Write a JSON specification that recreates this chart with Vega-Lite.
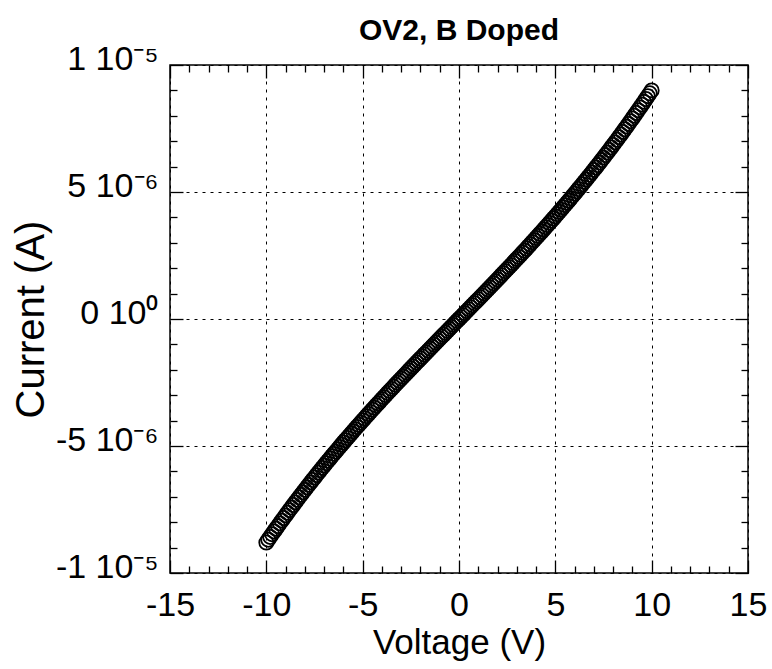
{
  "$schema": "https://vega.github.io/schema/vega-lite/v6.json",
  "width": 578,
  "height": 508,
  "autosize": {"type": "none"},
  "padding": {"left": 170, "top": 65, "right": 24, "bottom": 96},
  "background": "white",
  "title": {"text": "OV2, B Doped", "fontSize": 30, "fontWeight": "bold", "font": "Liberation Sans", "color": "black", "anchor": "middle", "offset": -4},
  "datasets": {
    "iv": [
      {"V":-10.0,"I":-8.800e-6},{"V":-9.9,"I":-8.690e-6},{"V":-9.8,"I":-8.581e-6},{"V":-9.7,"I":-8.473e-6},{"V":-9.6,"I":-8.365e-6},
      {"V":-9.5,"I":-8.258e-6},{"V":-9.4,"I":-8.152e-6},{"V":-9.3,"I":-8.046e-6},{"V":-9.2,"I":-7.941e-6},{"V":-9.1,"I":-7.836e-6},
      {"V":-9.0,"I":-7.732e-6},{"V":-8.9,"I":-7.629e-6},{"V":-8.8,"I":-7.526e-6},{"V":-8.7,"I":-7.424e-6},{"V":-8.6,"I":-7.323e-6},
      {"V":-8.5,"I":-7.221e-6},{"V":-8.4,"I":-7.121e-6},{"V":-8.3,"I":-7.021e-6},{"V":-8.2,"I":-6.922e-6},{"V":-8.1,"I":-6.823e-6},
      {"V":-8.0,"I":-6.725e-6},{"V":-7.9,"I":-6.627e-6},{"V":-7.8,"I":-6.530e-6},{"V":-7.7,"I":-6.433e-6},{"V":-7.6,"I":-6.337e-6},
      {"V":-7.5,"I":-6.241e-6},{"V":-7.4,"I":-6.146e-6},{"V":-7.3,"I":-6.052e-6},{"V":-7.2,"I":-5.957e-6},{"V":-7.1,"I":-5.864e-6},
      {"V":-7.0,"I":-5.771e-6},{"V":-6.9,"I":-5.678e-6},{"V":-6.8,"I":-5.585e-6},{"V":-6.7,"I":-5.494e-6},{"V":-6.6,"I":-5.402e-6},
      {"V":-6.5,"I":-5.311e-6},{"V":-6.4,"I":-5.221e-6},{"V":-6.3,"I":-5.130e-6},{"V":-6.2,"I":-5.041e-6},{"V":-6.1,"I":-4.951e-6},
      {"V":-6.0,"I":-4.862e-6},{"V":-5.9,"I":-4.774e-6},{"V":-5.8,"I":-4.686e-6},{"V":-5.7,"I":-4.598e-6},{"V":-5.6,"I":-4.511e-6},
      {"V":-5.5,"I":-4.424e-6},{"V":-5.4,"I":-4.337e-6},{"V":-5.3,"I":-4.251e-6},{"V":-5.2,"I":-4.165e-6},{"V":-5.1,"I":-4.079e-6},
      {"V":-5.0,"I":-3.994e-6},{"V":-4.9,"I":-3.909e-6},{"V":-4.8,"I":-3.824e-6},{"V":-4.7,"I":-3.740e-6},{"V":-4.6,"I":-3.656e-6},
      {"V":-4.5,"I":-3.572e-6},{"V":-4.4,"I":-3.489e-6},{"V":-4.3,"I":-3.405e-6},{"V":-4.2,"I":-3.323e-6},{"V":-4.1,"I":-3.240e-6},
      {"V":-4.0,"I":-3.158e-6},{"V":-3.9,"I":-3.076e-6},{"V":-3.8,"I":-2.994e-6},{"V":-3.7,"I":-2.912e-6},{"V":-3.6,"I":-2.831e-6},
      {"V":-3.5,"I":-2.750e-6},{"V":-3.4,"I":-2.669e-6},{"V":-3.3,"I":-2.588e-6},{"V":-3.2,"I":-2.507e-6},{"V":-3.1,"I":-2.427e-6},
      {"V":-3.0,"I":-2.347e-6},{"V":-2.9,"I":-2.267e-6},{"V":-2.8,"I":-2.187e-6},{"V":-2.7,"I":-2.108e-6},{"V":-2.6,"I":-2.028e-6},
      {"V":-2.5,"I":-1.949e-6},{"V":-2.4,"I":-1.870e-6},{"V":-2.3,"I":-1.791e-6},{"V":-2.2,"I":-1.712e-6},{"V":-2.1,"I":-1.634e-6},
      {"V":-2.0,"I":-1.555e-6},{"V":-1.9,"I":-1.477e-6},{"V":-1.8,"I":-1.398e-6},{"V":-1.7,"I":-1.320e-6},{"V":-1.6,"I":-1.242e-6},
      {"V":-1.5,"I":-1.164e-6},{"V":-1.4,"I":-1.086e-6},{"V":-1.3,"I":-1.008e-6},{"V":-1.2,"I":-0.931e-6},{"V":-1.1,"I":-0.853e-6},
      {"V":-1.0,"I":-0.775e-6},{"V":-0.9,"I":-0.698e-6},{"V":-0.8,"I":-0.620e-6},{"V":-0.7,"I":-0.542e-6},{"V":-0.6,"I":-0.465e-6},
      {"V":-0.5,"I":-0.387e-6},{"V":-0.4,"I":-0.310e-6},{"V":-0.3,"I":-0.232e-6},{"V":-0.2,"I":-0.155e-6},{"V":-0.1,"I":-0.077e-6},
      {"V":0.0,"I":0},
      {"V":0.1,"I":0.078e-6},{"V":0.2,"I":0.155e-6},{"V":0.3,"I":0.233e-6},{"V":0.4,"I":0.310e-6},{"V":0.5,"I":0.388e-6},
      {"V":0.6,"I":0.466e-6},{"V":0.7,"I":0.543e-6},{"V":0.8,"I":0.621e-6},{"V":0.9,"I":0.699e-6},{"V":1.0,"I":0.777e-6},
      {"V":1.1,"I":0.855e-6},{"V":1.2,"I":0.933e-6},{"V":1.3,"I":1.012e-6},{"V":1.4,"I":1.090e-6},{"V":1.5,"I":1.169e-6},
      {"V":1.6,"I":1.247e-6},{"V":1.7,"I":1.326e-6},{"V":1.8,"I":1.405e-6},{"V":1.9,"I":1.484e-6},{"V":2.0,"I":1.563e-6},
      {"V":2.1,"I":1.643e-6},{"V":2.2,"I":1.722e-6},{"V":2.3,"I":1.802e-6},{"V":2.4,"I":1.882e-6},{"V":2.5,"I":1.962e-6},
      {"V":2.6,"I":2.042e-6},{"V":2.7,"I":2.122e-6},{"V":2.8,"I":2.203e-6},{"V":2.9,"I":2.284e-6},{"V":3.0,"I":2.365e-6},
      {"V":3.1,"I":2.446e-6},{"V":3.2,"I":2.528e-6},{"V":3.3,"I":2.610e-6},{"V":3.4,"I":2.692e-6},{"V":3.5,"I":2.774e-6},
      {"V":3.6,"I":2.857e-6},{"V":3.7,"I":2.940e-6},{"V":3.8,"I":3.023e-6},{"V":3.9,"I":3.106e-6},{"V":4.0,"I":3.190e-6},
      {"V":4.1,"I":3.274e-6},{"V":4.2,"I":3.358e-6},{"V":4.3,"I":3.442e-6},{"V":4.4,"I":3.527e-6},{"V":4.5,"I":3.613e-6},
      {"V":4.6,"I":3.698e-6},{"V":4.7,"I":3.784e-6},{"V":4.8,"I":3.870e-6},{"V":4.9,"I":3.957e-6},{"V":5.0,"I":4.044e-6},
      {"V":5.1,"I":4.131e-6},{"V":5.2,"I":4.219e-6},{"V":5.3,"I":4.307e-6},{"V":5.4,"I":4.395e-6},{"V":5.5,"I":4.484e-6},
      {"V":5.6,"I":4.573e-6},{"V":5.7,"I":4.663e-6},{"V":5.8,"I":4.753e-6},{"V":5.9,"I":4.844e-6},{"V":6.0,"I":4.934e-6},
      {"V":6.1,"I":5.026e-6},{"V":6.2,"I":5.118e-6},{"V":6.3,"I":5.210e-6},{"V":6.4,"I":5.302e-6},{"V":6.5,"I":5.396e-6},
      {"V":6.6,"I":5.489e-6},{"V":6.7,"I":5.583e-6},{"V":6.8,"I":5.678e-6},{"V":6.9,"I":5.773e-6},{"V":7.0,"I":5.869e-6},
      {"V":7.1,"I":5.965e-6},{"V":7.2,"I":6.061e-6},{"V":7.3,"I":6.158e-6},{"V":7.4,"I":6.256e-6},{"V":7.5,"I":6.354e-6},
      {"V":7.6,"I":6.453e-6},{"V":7.7,"I":6.552e-6},{"V":7.8,"I":6.652e-6},{"V":7.9,"I":6.752e-6},{"V":8.0,"I":6.853e-6},
      {"V":8.1,"I":6.954e-6},{"V":8.2,"I":7.056e-6},{"V":8.3,"I":7.159e-6},{"V":8.4,"I":7.262e-6},{"V":8.5,"I":7.366e-6},
      {"V":8.6,"I":7.470e-6},{"V":8.7,"I":7.576e-6},{"V":8.8,"I":7.681e-6},{"V":8.9,"I":7.787e-6},{"V":9.0,"I":7.894e-6},
      {"V":9.1,"I":8.002e-6},{"V":9.2,"I":8.110e-6},{"V":9.3,"I":8.219e-6},{"V":9.4,"I":8.329e-6},{"V":9.5,"I":8.439e-6},
      {"V":9.6,"I":8.550e-6},{"V":9.7,"I":8.661e-6},{"V":9.8,"I":8.773e-6},{"V":9.9,"I":8.886e-6},{"V":10.0,"I":9.000e-6}
    ]
  },
  "data": {"name": "iv"},
  "layer": [
    {
      "mark": {"type": "point", "shape": "circle", "filled": false, "stroke": "black", "strokeWidth": 1.8, "size": 200, "opacity": 1},
      "encoding": {
        "x": {"field": "V", "type": "quantitative", "scale": {"domain": [-15, 15], "nice": false, "zero": false},
          "axis": {"orient": "bottom", "title": "Voltage (V)", "values": [-15, -10, -5, 0, 5, 10, 15], "grid": true, "tickSize": -13, "labelPadding": 28, "labelFontSize": 34, "titlePadding": 3, "titleFontSize": 35,
            "labelExpr": "toString(datum.value)"}},
        "y": {"field": "I", "type": "quantitative", "scale": {"domain": [-1e-5, 1e-5], "nice": false, "zero": false},
          "axis": {"orient": "left", "title": "Current (A)", "values": [-1e-5, -5e-6, 0, 5e-6, 1e-5], "grid": true, "tickSize": -13, "labelPadding": 25, "labelFontSize": 34, "titlePadding": 4, "titleFontSize": 40, "labelOffset": -6,
            "labelExpr": "datum.value == 0 ? '0 10⁰' : datum.value > 9e-6 ? '1 10⁻⁵' : datum.value > 4e-6 ? '5 10⁻⁶' : datum.value < -9e-6 ? '-1 10⁻⁵' : '-5 10⁻⁶'"}}
      }
    },
    {
      "mark": {"type": "point", "opacity": 0},
      "encoding": {
        "x": {"field": "V", "type": "quantitative",
          "axis": {"orient": "bottom", "title": null, "labels": false, "grid": false, "tickSize": -7, "values": [-14, -13, -12, -11, -9, -8, -7, -6, -4, -3, -2, -1, 1, 2, 3, 4, 6, 7, 8, 9, 11, 12, 13, 14]}},
        "y": {"field": "I", "type": "quantitative",
          "axis": {"orient": "left", "title": null, "labels": false, "grid": false, "tickSize": -7, "values": [-9e-6, -8e-6, -7e-6, -6e-6, -4e-6, -3e-6, -2e-6, -1e-6, 1e-6, 2e-6, 3e-6, 4e-6, 6e-6, 7e-6, 8e-6, 9e-6]}}
      }
    },
    {
      "mark": {"type": "point", "opacity": 0},
      "encoding": {
        "x": {"field": "V", "type": "quantitative",
          "axis": {"orient": "top", "title": null, "labels": false, "grid": false, "tickSize": -13, "values": [-15, -10, -5, 0, 5, 10, 15]}},
        "y": {"field": "I", "type": "quantitative",
          "axis": {"orient": "right", "title": null, "labels": false, "grid": false, "tickSize": -13, "values": [-1e-5, -5e-6, 0, 5e-6, 1e-5]}}
      }
    },
    {
      "mark": {"type": "point", "opacity": 0},
      "encoding": {
        "x": {"field": "V", "type": "quantitative",
          "axis": {"orient": "top", "title": null, "labels": false, "grid": false, "tickSize": -7, "values": [-14, -13, -12, -11, -9, -8, -7, -6, -4, -3, -2, -1, 1, 2, 3, 4, 6, 7, 8, 9, 11, 12, 13, 14]}},
        "y": {"field": "I", "type": "quantitative",
          "axis": {"orient": "right", "title": null, "labels": false, "grid": false, "tickSize": -7, "values": [-9e-6, -8e-6, -7e-6, -6e-6, -4e-6, -3e-6, -2e-6, -1e-6, 1e-6, 2e-6, 3e-6, 4e-6, 6e-6, 7e-6, 8e-6, 9e-6]}}
      }
    }
  ],
  "resolve": {"axis": {"x": "independent", "y": "independent"}},
  "config": {
    "view": {"stroke": "black", "strokeWidth": 1.5},
    "axis": {
      "domain": false,
      "tickColor": "black",
      "tickWidth": 1.3,
      "gridColor": "black",
      "gridDash": [3, 5],
      "gridWidth": 1,
      "gridOpacity": 1,
      "labelFont": "Liberation Sans",
      "labelColor": "black",
      "labelFlush": false,
      "labelOverlap": false,
      "titleFont": "Liberation Sans",
      "titleFontWeight": "normal",
      "titleColor": "black"
    }
  }
}
